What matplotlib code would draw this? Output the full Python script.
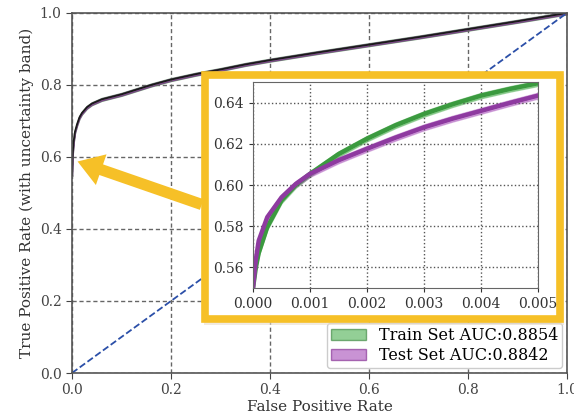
import matplotlib.pyplot as plt
from matplotlib.patches import Rectangle

# main ROC curve (full range)
fpr_main = [0.0, 0.001, 0.003, 0.006, 0.01, 0.015, 0.02, 0.03, 0.04, 0.06, 0.08, 0.1, 0.13, 0.16,
            0.2, 0.25, 0.3, 0.35, 0.4, 0.5, 0.6, 0.7, 0.8, 0.9, 1.0]
tpr_main = [0.55, 0.60, 0.64, 0.67, 0.69, 0.71, 0.722, 0.738, 0.748, 0.76, 0.767, 0.774, 0.787, 0.80,
            0.815, 0.83, 0.843, 0.857, 0.869, 0.891, 0.912, 0.933, 0.955, 0.977, 1.0]

# zoomed region, low FPR
fpr_zoom = [0.0, 0.00005, 0.0001, 0.00025, 0.0005, 0.00075, 0.001, 0.0015, 0.002, 0.0025, 0.003, 0.0035, 0.004, 0.0045, 0.005]
tpr_train = [0.55, 0.560, 0.567, 0.5796, 0.5925, 0.600, 0.6054, 0.615, 0.6225, 0.6290, 0.6345, 0.6392, 0.6434, 0.6466, 0.6494]
tpr_test = [0.55, 0.564, 0.573, 0.5844, 0.594, 0.6005, 0.6054, 0.612, 0.6176, 0.6230, 0.628, 0.6322, 0.636, 0.6398, 0.6434]

train_label = "Train Set AUC:0.8854"
test_label = "Test Set AUC:0.8842"

plt.rcParams['font.family'] = 'DejaVu Serif'

fig = plt.figure(figsize=(5.74, 4.15), dpi=100)
ax = fig.add_axes([0.1254, 0.1012, 0.8624, 0.8675])

green = '#4caf50'
purple = '#a64cb8'

# bands + mean line on the main plot
ax.fill_between(fpr_main, [t - 0.004 for t in tpr_main], [t + 0.004 for t in tpr_main],
                color=green, alpha=0.6, label=train_label, edgecolor='#2e7d32')
ax.fill_between(fpr_main, [t - 0.003 for t in tpr_main], [t + 0.003 for t in tpr_main],
                color=purple, alpha=0.6, label=test_label, edgecolor='#7b1f8a')
ax.plot(fpr_main, tpr_main, color='#1a1a1a', lw=1.3)
ax.plot([0, 1], [0, 1], color='#2b4fa8', ls='--', lw=1.3)

ax.set_xlim(0, 1)
ax.set_ylim(0, 1)
ax.set_xticks([0, 0.2, 0.4, 0.6, 0.8, 1.0])
ax.set_yticks([0, 0.2, 0.4, 0.6, 0.8, 1.0])
ax.grid(True, ls=(0, (3, 2)), color='#666666', lw=1.0)
ax.tick_params(colors='#444444', labelsize=10, length=4)
for s in ax.spines.values():
    s.set_color('#555555')
    s.set_linewidth(1.2)
ax.set_xlabel("False Positive Rate", fontsize=11, color='#333333', labelpad=2)
ax.set_ylabel("True Positive Rate (with uncertainty band)", fontsize=11, color='#333333')
leg = ax.legend(loc='lower right', fontsize=11.5, frameon=True, framealpha=1,
                borderaxespad=0.3, borderpad=0.25, labelspacing=0.2, handlelength=2.2)
leg.get_frame().set_edgecolor('#cccccc')

# yellow zoom frame
shadow = Rectangle((0.356, 0.216), 0.627, 0.606, transform=fig.transFigure,
                   facecolor='#e8dccc', edgecolor='none', alpha=0.6, zorder=1)
fig.patches.append(shadow)
frame = Rectangle((0.358, 0.232), 0.617, 0.588, transform=fig.transFigure,
                  facecolor='white', edgecolor='#f6c027', lw=5.5, zorder=1.1)
fig.patches.append(frame)

# arrow pointing to the zoomed region
ax.annotate("", xy=(0.006, 0.59), xycoords='data',
            xytext=(0.356, 0.505), textcoords='figure fraction',
            arrowprops=dict(arrowstyle='simple,head_width=1.3,head_length=1.0,tail_width=0.45',
                            mutation_scale=18, color='#f6c027', lw=0),
            zorder=5, annotation_clip=False)

# inset
ins = fig.add_axes([0.4408, 0.306, 0.4965, 0.4964], zorder=2)
up_tr = [t + 0.0013 for t in tpr_train]
lo_tr = [t - 0.0013 for t in tpr_train]
up_te = [t + 0.0014 for t in tpr_test]
lo_te = [t - 0.0014 for t in tpr_test]
ins.fill_between(fpr_zoom, lo_tr, up_tr, color=green, alpha=0.5)
ins.plot(fpr_zoom, tpr_train, color='#3b9a3f', lw=3.2)
ins.fill_between(fpr_zoom, lo_te, up_te, color=purple, alpha=0.45)
ins.plot(fpr_zoom, tpr_test, color='#8e3aa0', lw=3.2)
ins.set_xlim(0, 0.005)
ins.set_ylim(0.55, 0.65)
ins.set_xticks([0, 0.001, 0.002, 0.003, 0.004, 0.005])
ins.set_xticklabels(['0.000', '0.001', '0.002', '0.003', '0.004', '0.005'])
ins.set_yticks([0.56, 0.58, 0.60, 0.62, 0.64])
ins.set_yticklabels(['0.56', '0.58', '0.60', '0.62', '0.64'])
ins.grid(True, ls=':', color='#555555', lw=1.0)
ins.tick_params(colors='#333333', labelsize=10, length=3)
for s in ins.spines.values():
    s.set_color('#666666')

fig.savefig("out.png", dpi=100)
